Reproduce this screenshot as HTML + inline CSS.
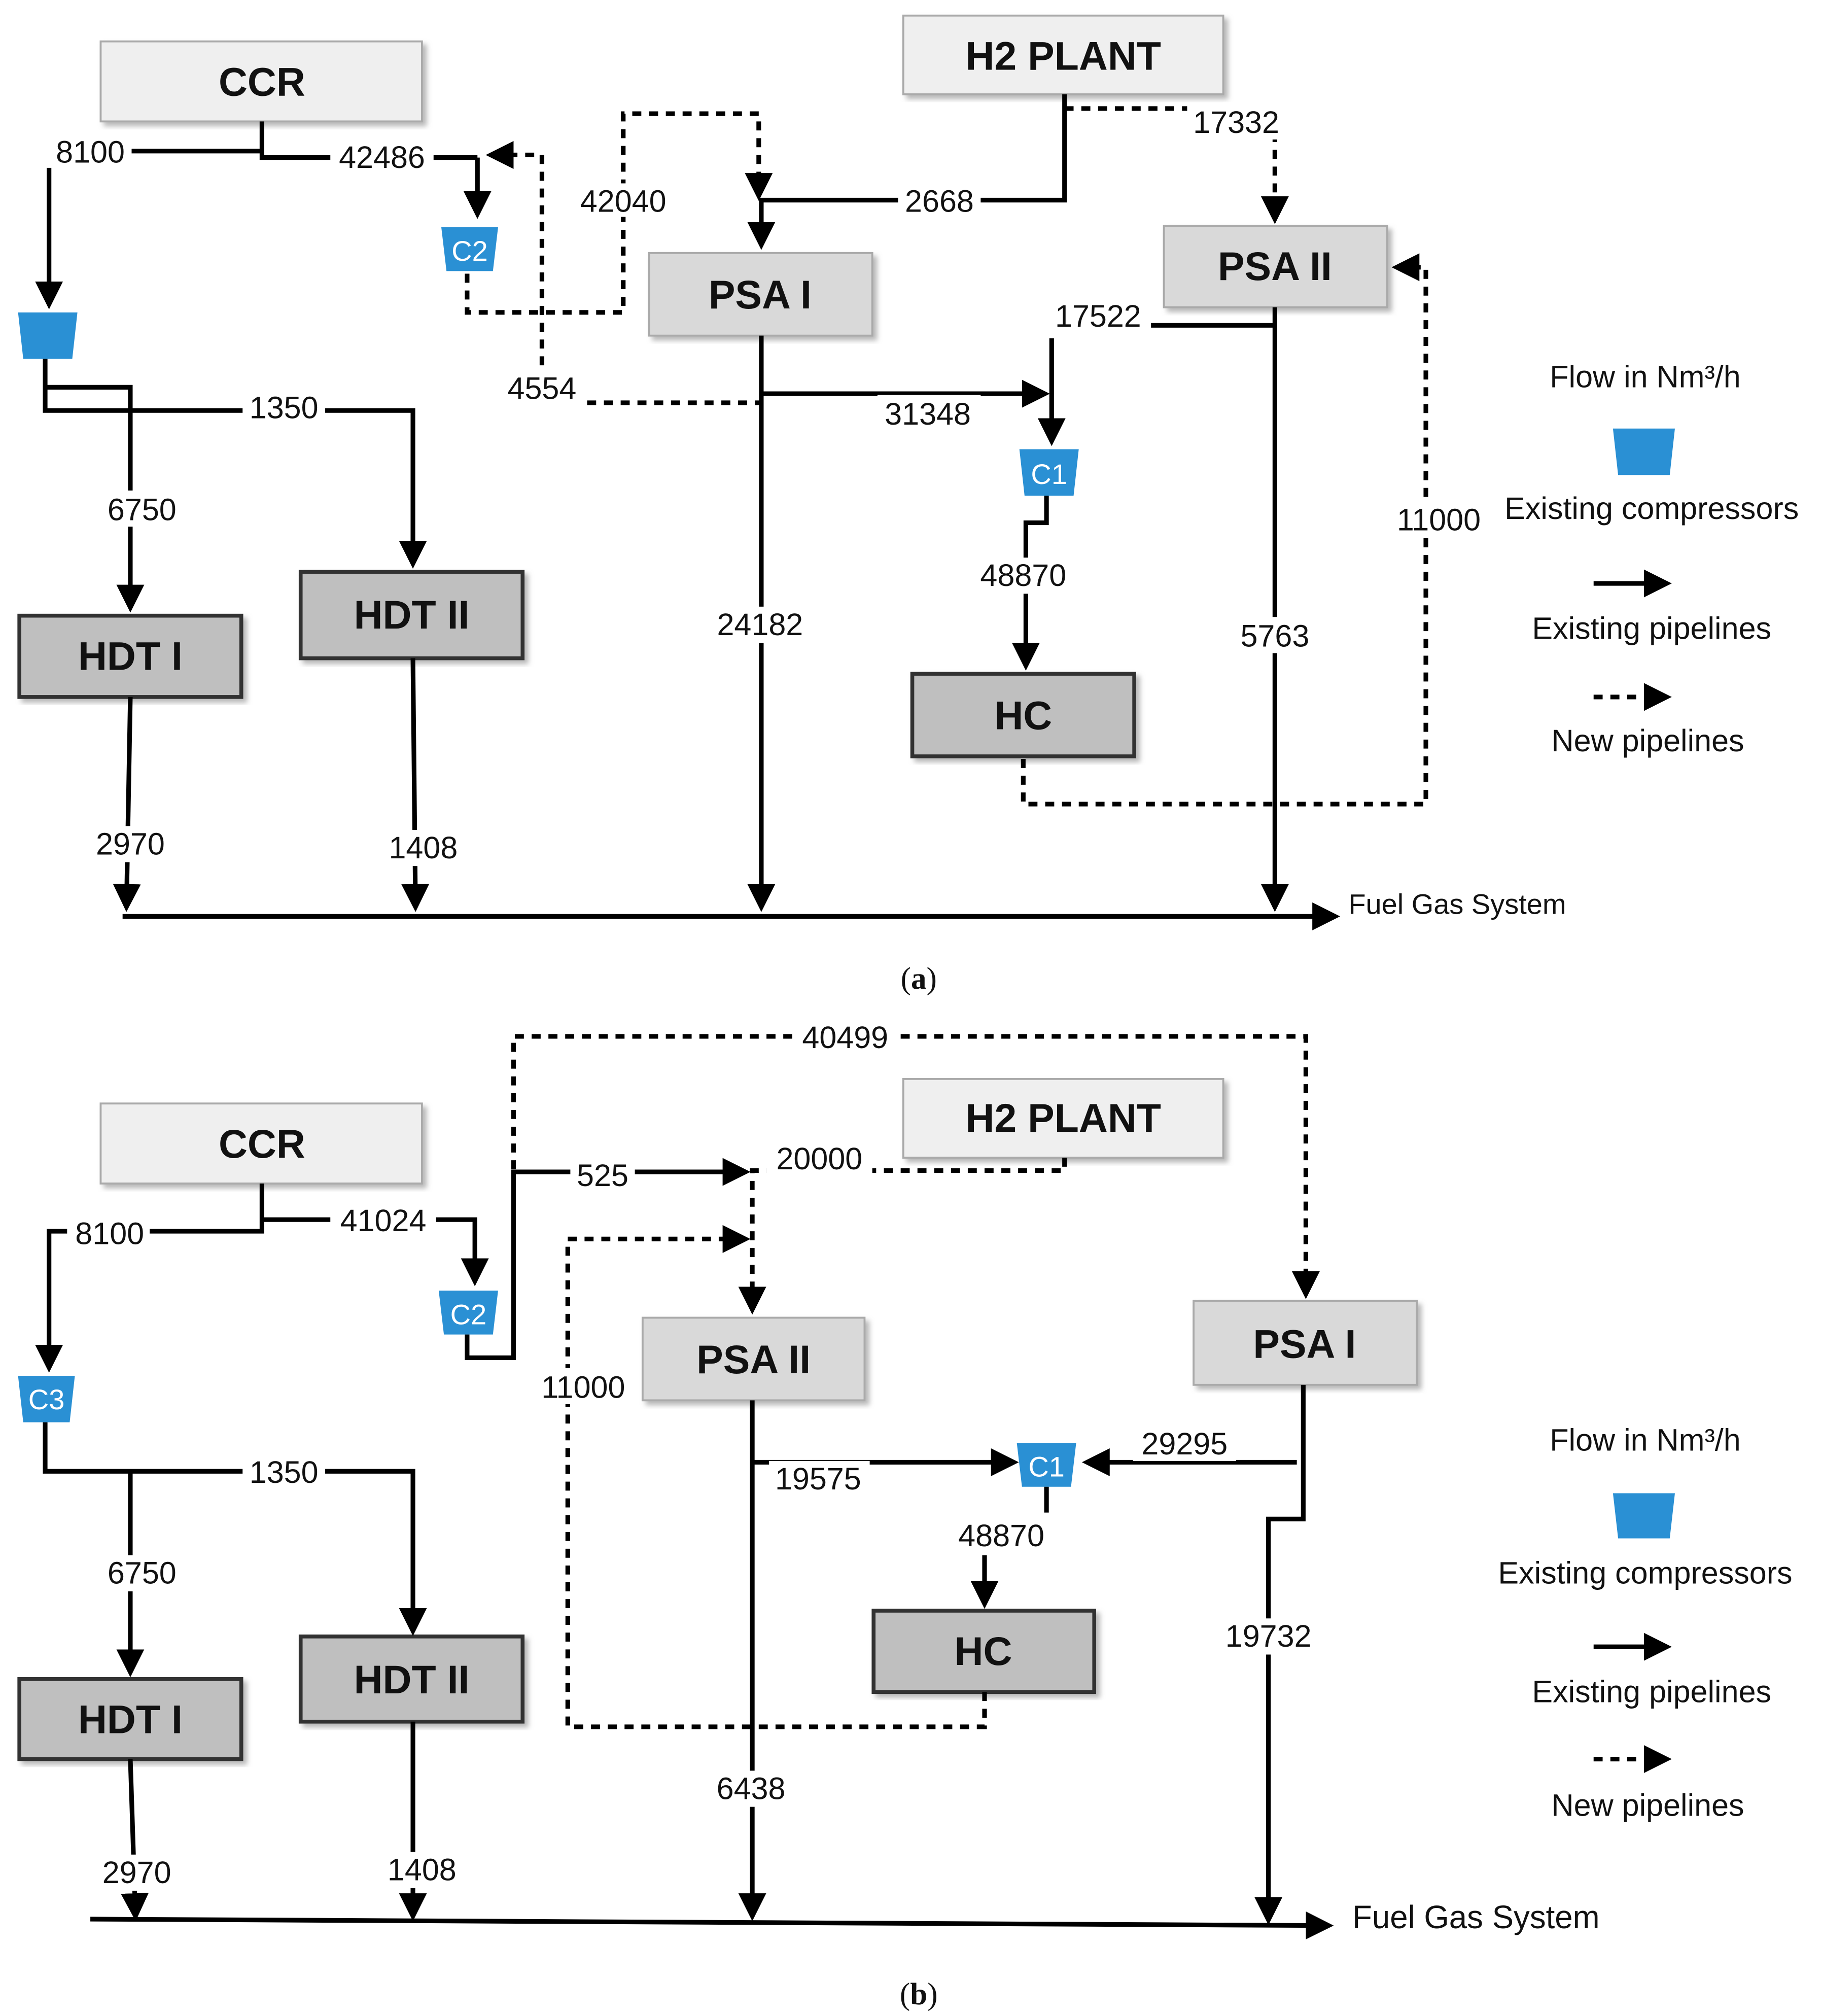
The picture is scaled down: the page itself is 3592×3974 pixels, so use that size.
<!DOCTYPE html>
<html><head><meta charset="utf-8"><style>
html,body{margin:0;padding:0;background:#fff}
svg{display:block}
text{font-family:"Liberation Sans",sans-serif;fill:#111}
.l{font-size:24px;text-anchor:middle}
.b{font-size:31px;font-weight:bold;text-anchor:middle}
.c{font-size:22px;fill:#fff;text-anchor:middle}
.s{stroke:#000;stroke-width:3.6;fill:none}
.d{stroke:#000;stroke-width:3.6;fill:none;stroke-dasharray:7,6}
</style></head><body>
<svg width="3592" height="3974" viewBox="0 0 1412 1562" xmlns="http://www.w3.org/2000/svg">
<defs>
<marker id="a" markerWidth="6" markerHeight="6" refX="5" refY="3" orient="auto" markerUnits="strokeWidth"><path d="M0,0 L6,3 L0,6 z" fill="#000"/></marker>
<filter id="sh"><feDropShadow dx="3" dy="3" stdDeviation="2" flood-color="#888" flood-opacity="0.6"/></filter>
</defs>
<g id="boxes">
<rect x="78" y="32" width="249" height="62" fill="#efefef" stroke="#aaa" stroke-width="1.5" filter="url(#sh)"/><text class="b" x="203" y="74">CCR</text>
<rect x="700" y="12" width="248" height="61" fill="#efefef" stroke="#aaa" stroke-width="1.5" filter="url(#sh)"/><text class="b" x="824" y="54">H2 PLANT</text>
<rect x="503" y="196" width="173" height="64" fill="#d9d9d9" stroke="#aaa" stroke-width="1.5" filter="url(#sh)"/><text class="b" x="589" y="239">PSA I</text>
<rect x="902" y="175" width="173" height="63" fill="#d9d9d9" stroke="#aaa" stroke-width="1.5" filter="url(#sh)"/><text class="b" x="988" y="217">PSA II</text>
<rect x="15" y="477" width="172" height="63" fill="#bfbfbf" stroke="#333" stroke-width="3" filter="url(#sh)"/><text class="b" x="101" y="519">HDT I</text>
<rect x="233" y="443" width="172" height="67" fill="#bfbfbf" stroke="#333" stroke-width="3" filter="url(#sh)"/><text class="b" x="319" y="487">HDT II</text>
<rect x="707" y="522" width="172" height="64" fill="#bfbfbf" stroke="#333" stroke-width="3" filter="url(#sh)"/><text class="b" x="793" y="565">HC</text>

<rect x="78" y="855" width="249" height="62" fill="#efefef" stroke="#aaa" stroke-width="1.5" filter="url(#sh)"/><text class="b" x="203" y="897">CCR</text>
<rect x="700" y="836" width="248" height="61" fill="#efefef" stroke="#aaa" stroke-width="1.5" filter="url(#sh)"/><text class="b" x="824" y="877">H2 PLANT</text>
<rect x="498" y="1021" width="172" height="64" fill="#d9d9d9" stroke="#aaa" stroke-width="1.5" filter="url(#sh)"/><text class="b" x="584" y="1064">PSA II</text>
<rect x="925" y="1008" width="173" height="65" fill="#d9d9d9" stroke="#aaa" stroke-width="1.5" filter="url(#sh)"/><text class="b" x="1011" y="1052">PSA I</text>
<rect x="15" y="1301" width="172" height="62" fill="#bfbfbf" stroke="#333" stroke-width="3" filter="url(#sh)"/><text class="b" x="101" y="1343">HDT I</text>
<rect x="233" y="1268" width="172" height="66" fill="#bfbfbf" stroke="#333" stroke-width="3" filter="url(#sh)"/><text class="b" x="319" y="1312">HDT II</text>
<rect x="677" y="1248" width="171" height="63" fill="#bfbfbf" stroke="#333" stroke-width="3" filter="url(#sh)"/><text class="b" x="762" y="1290">HC</text>
</g>
<g fill="#2a90d4">
<path d="M14,242 H60 L56,278 H18 Z"/>
<path d="M342,176 H386 L382,210 H346 Z"/><text class="c" x="364" y="202">C2</text>
<path d="M790,348 H836 L832,384 H794 Z"/><text class="c" x="813" y="375">C1</text>
<path d="M1250,332 H1298 L1294,368 H1254 Z"/>
<path d="M14,1066 H58 L54,1102 H18 Z"/><text class="c" x="36" y="1092">C3</text>
<path d="M340,1000 H386 L382,1034 H344 Z"/><text class="c" x="363" y="1026">C2</text>
<path d="M788,1118 H834 L830,1152 H792 Z"/><text class="c" x="811" y="1144">C1</text>
<path d="M1250,1157 H1298 L1294,1192 H1254 Z"/>
</g>
<!-- (a) lines -->
<g>
<path class="s" d="M203,94 V122 H370"/><path class="s" d="M203,117 H100"/>
<path class="s" d="M38,130 V236" marker-end="url(#a)"/>
<path class="s" d="M370,122 V166" marker-end="url(#a)"/>
<path class="d" d="M420,283 V120 H380" marker-end="url(#a)"/>
<path class="d" d="M362,212 V242 H483 V88 H588 V152" marker-end="url(#a)"/>
<path class="s" d="M825,73 V155 H590 V190" marker-end="url(#a)"/>
<path class="d" d="M825,84 H988 V170" marker-end="url(#a)"/>
<path class="s" d="M590,260 V703" marker-end="url(#a)"/>
<path class="s" d="M590,305 H810" marker-end="url(#a)"/>
<path class="s" d="M815,262 V342" marker-end="url(#a)"/>
<path class="d" d="M455,312 H590"/>
<path class="s" d="M890,252 H988"/><path class="s" d="M988,238 V703" marker-end="url(#a)"/>
<path class="s" d="M811,384 V405 H795 V516" marker-end="url(#a)"/>
<path class="d" d="M793,588 V623 H1105 V207 H1082" marker-end="url(#a)"/>
<path class="s" d="M35,278 V318 H320 V437" marker-end="url(#a)"/>
<path class="s" d="M35,300 H101 V471" marker-end="url(#a)"/>
<path class="s" d="M101,540 L98,703" marker-end="url(#a)"/>
<path class="s" d="M320,510 L322,703" marker-end="url(#a)"/>
<path class="s" d="M95,710 H1035" marker-end="url(#a)"/>
</g>
<g fill="#fff">
<rect x="40" y="104" width="62" height="26"/><rect x="256" y="108" width="80" height="26"/><rect x="442" y="142" width="80" height="26"/><rect x="696" y="142" width="64" height="26"/><rect x="920" y="80" width="78" height="28"/><rect x="680" y="306" width="80" height="28"/><rect x="188" y="303" width="64" height="26"/><rect x="76" y="380" width="66" height="28"/><rect x="548" y="470" width="82" height="28"/><rect x="752" y="432" width="82" height="28"/><rect x="954" y="478" width="70" height="28"/><rect x="1075" y="388" width="80" height="28"/><rect x="68" y="640" width="66" height="28"/><rect x="296" y="643" width="64" height="28"/><rect x="810" y="231" width="82" height="28"/>
</g>
<g class="t">
<text class="l" x="70" y="126">8100</text><text class="l" x="296" y="130">42486</text><text class="l" x="483" y="164">42040</text><text class="l" x="728" y="164">2668</text><text class="l" x="958" y="103">17332</text><text class="l" x="420" y="309">4554</text><text class="l" x="719" y="329">31348</text><text class="l" x="220" y="324">1350</text><text class="l" x="110" y="403">6750</text><text class="l" x="589" y="492">24182</text><text class="l" x="793" y="454">48870</text><text class="l" x="988" y="501">5763</text><text class="l" x="1115" y="411">11000</text><text class="l" x="101" y="662">2970</text><text class="l" x="328" y="665">1408</text><text class="l" x="851" y="253">17522</text>
<text style="font-size:22px" x="1045" y="708">Fuel Gas System</text>
<text class="l" x="712" y="766" style="font-family:'Liberation Serif',serif">(<tspan font-weight="bold">a</tspan>)</text>
<text class="l" x="1275" y="300">Flow in Nm³/h</text>
<rect x="1150" y="378" width="6" height="26" fill="#fff"/>
<text class="l" x="1280" y="402">Existing compressors</text>
<path class="s" d="M1235,452 H1292" marker-end="url(#a)"/><text class="l" x="1280" y="495">Existing pipelines</text>
<path class="d" d="M1235,540 H1292" marker-end="url(#a)"/><text class="l" x="1277" y="582">New pipelines</text>
</g>
<!-- (b) lines -->
<g>
<path class="s" d="M203,917 V954 H38 V1060" marker-end="url(#a)"/>
<path class="s" d="M203,945 H368 V993" marker-end="url(#a)"/>
<path class="s" d="M362,1034 V1052 H398 V908 H578" marker-end="url(#a)"/>
<path class="d" d="M398,906 V803 H1012 V1003" marker-end="url(#a)"/>
<path class="d" d="M825,897 V907 H583 V1015" marker-end="url(#a)"/>
<path class="d" d="M763,1311 V1338 H440 V960 H578" marker-end="url(#a)"/>
<path class="s" d="M583,1085 V1485" marker-end="url(#a)"/>
<path class="s" d="M583,1133 H786" marker-end="url(#a)"/>
<path class="s" d="M1010,1073 V1177 H983 V1488" marker-end="url(#a)"/>
<path class="s" d="M1005,1133 H842" marker-end="url(#a)"/>
<path class="s" d="M811,1152 V1172"/>
<path class="s" d="M763,1205 V1243" marker-end="url(#a)"/>
<path class="s" d="M35,1102 V1140 H320 V1264" marker-end="url(#a)"/>
<path class="s" d="M101,1140 V1296" marker-end="url(#a)"/>
<path class="s" d="M101,1363 L105,1485" marker-end="url(#a)"/>
<path class="s" d="M320,1334 V1485" marker-end="url(#a)"/>
<path class="s" d="M70,1487 L1030,1492" marker-end="url(#a)"/>
</g>
<g fill="#fff">
<rect x="52" y="942" width="64" height="26"/><rect x="256" y="932" width="82" height="26"/><rect x="442" y="897" width="50" height="26"/><rect x="614" y="790" width="82" height="26"/><rect x="594" y="884" width="82" height="26"/><rect x="412" y="1060" width="80" height="28"/><rect x="596" y="1132" width="78" height="28"/><rect x="878" y="1104" width="80" height="28"/><rect x="738" y="1176" width="80" height="28"/><rect x="188" y="1127" width="64" height="26"/><rect x="78" y="1205" width="64" height="28"/><rect x="944" y="1254" width="78" height="28"/><rect x="548" y="1372" width="68" height="28"/><rect x="74" y="1437" width="64" height="28"/><rect x="295" y="1435" width="64" height="28"/>
</g>
<g>
<text class="l" x="85" y="964">8100</text><text class="l" x="297" y="954">41024</text><text class="l" x="467" y="919">525</text><text class="l" x="655" y="812">40499</text><text class="l" x="635" y="906">20000</text><text class="l" x="452" y="1083">11000</text><text class="l" x="634" y="1154">19575</text><text class="l" x="918" y="1127">29295</text><text class="l" x="776" y="1198">48870</text><text class="l" x="220" y="1149">1350</text><text class="l" x="110" y="1227">6750</text><text class="l" x="983" y="1276">19732</text><text class="l" x="582" y="1394">6438</text><text class="l" x="106" y="1459">2970</text><text class="l" x="327" y="1457">1408</text>
<text style="font-size:25px" x="1048" y="1494">Fuel Gas System</text>
<text class="l" x="712" y="1553" style="font-family:'Liberation Serif',serif">(<tspan font-weight="bold">b</tspan>)</text>
<text class="l" x="1275" y="1124">Flow in Nm³/h</text>
<text class="l" x="1275" y="1227">Existing compressors</text>
<path class="s" d="M1235,1276 H1292" marker-end="url(#a)"/><text class="l" x="1280" y="1319">Existing pipelines</text>
<path class="d" d="M1235,1363 H1292" marker-end="url(#a)"/><text class="l" x="1277" y="1407">New pipelines</text>
</g>
</svg>
</body></html>
